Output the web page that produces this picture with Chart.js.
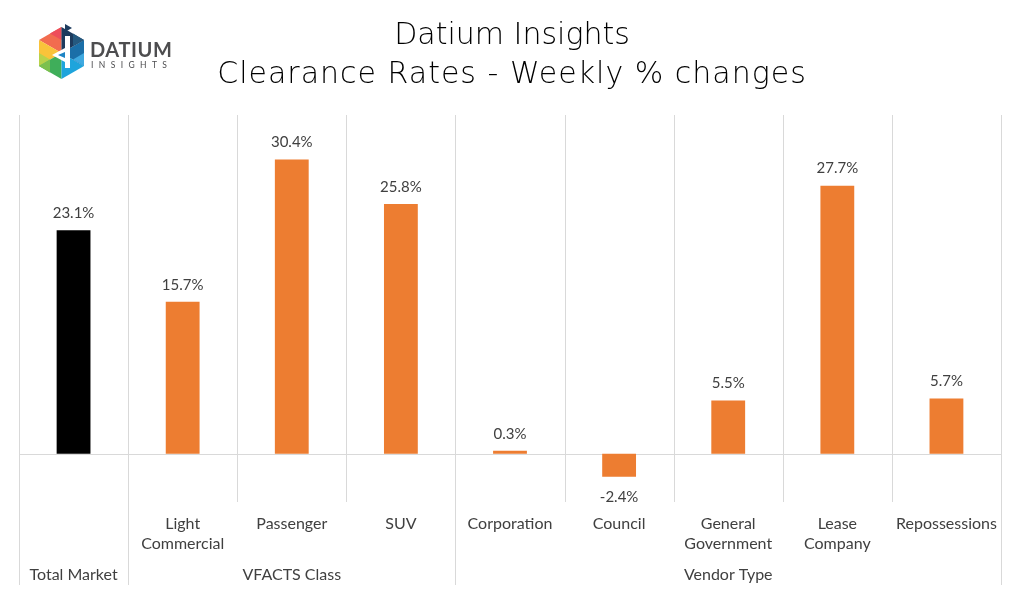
<!DOCTYPE html>
<html>
<head>
<meta charset="utf-8">
<script src="https://cdn.jsdelivr.net/npm/chart.js@4.4.0/dist/chart.umd.min.js"></script>
<style>
  html, body { margin: 0; padding: 0; background: #fff; }
  #wrap { position: relative; width: 1024px; height: 594px; }
  #logo { position: absolute; left: 36px; top: 24px; }
</style>
</head>
<body>
<div id="wrap">
  <canvas id="chart" width="1024" height="594"></canvas>
  <svg id="logo" width="150" height="60" viewBox="0 0 150 60">
    <!-- hexagon, pointy top, centre (25.5,29) r 26 -->
    <g>
      <polygon points="25.5,3 25.5,29 3,16" fill="#f26c4f"/>
      <polygon points="14,9.5 25.5,3 25.5,16" fill="#ee4d5a"/>
      <polygon points="3,16 25.5,29 3,42" fill="#f9c33a"/>
      <polygon points="3,29 3,42 14,35.5" fill="#b9d24a"/>
      <polygon points="3,42 25.5,29 25.5,55" fill="#3fae5a"/>
      <polygon points="3,42 14,48.5 14,35.5" fill="#7cc04e"/>
      <polygon points="25.5,55 25.5,29 48,42" fill="#1ea4dc"/>
      <polygon points="48,42 25.5,29 48,16" fill="#1b6fa8"/>
      <polygon points="48,29 48,42 37,35.5" fill="#3fa9e0"/>
      <polygon points="48,16 25.5,29 25.5,3" fill="#1d3b5e"/>
      <polygon points="37,9.5 48,16 37,22" fill="#25597f"/>
      <polygon points="29,0 36,4 29,8" fill="#1d3b5e"/>
      <!-- white d cut -->
      <rect x="29" y="12" width="5" height="32" fill="#fff"/>
      <polygon points="29,24 16,31 29,38" fill="#fff"/>
      <polygon points="29,28 22,31 29,34" fill="#1e84c4"/>
    </g>
    <text x="54" y="33" font-family="Lato, 'Open Sans', sans-serif" font-size="20" font-weight="700" fill="#4d4d4f" letter-spacing="0.6">DATIUM</text>
    <text x="55" y="44" font-family="Lato, 'Open Sans', sans-serif" font-size="8.5" fill="#4d4d4f" letter-spacing="5.4">INSIGHTS</text>
  </svg>
</div>
<script>
// Data
const groups = ['Total Market', 'VFACTS Class', 'Vendor Type'];
const groupSpans = [[0, 0], [1, 3], [4, 8]];
const categories = [
  [''],
  ['Light', 'Commercial'],
  ['Passenger'],
  ['SUV'],
  ['Corporation'],
  ['Council'],
  ['General', 'Government'],
  ['Lease', 'Company'],
  ['Repossessions']
];
const changes = [23.1, 15.7, 30.4, 25.8, 0.3, -2.4, 5.5, 27.7, 5.7];
const barColors = ['#000000', '#ed7d31', '#ed7d31', '#ed7d31', '#ed7d31', '#ed7d31', '#ed7d31', '#ed7d31', '#ed7d31'];
const titleLines = ['Datium Insights', 'Clearance Rates - Weekly % changes'];

const FONT = "Lato, 'Open Sans', sans-serif";
const TITLE_FONT = "200 30px 'DejaVu Sans', sans-serif";
const TEXT = '#404040';
const GRID = '#d9d9d9';

// draws title, category grid, data labels and the two-level axis
const decorations = {
  id: 'decorations',
  beforeDatasetsDraw(chart) {
    const { ctx, chartArea } = chart;
    const x = chart.scales.x;
    const y = chart.scales.y;
    const zero = Math.round(y.getPixelForValue(0)) + 0.5;
    const half = (x.getPixelForValue(1) - x.getPixelForValue(0)) / 2;
    ctx.save();
    ctx.strokeStyle = GRID;
    ctx.lineWidth = 1;
    // boundaries between categories
    const groupEdges = new Set();
    groupSpans.forEach(s => { groupEdges.add(s[0]); groupEdges.add(s[1] + 1); });
    for (let i = 0; i <= categories.length; i++) {
      const px = Math.round(x.getPixelForValue(i) - half) + 0.5;
      const bottom = groupEdges.has(i) ? 585 : chartArea.bottom;
      ctx.beginPath();
      ctx.moveTo(px, chartArea.top);
      ctx.lineTo(px, bottom);
      ctx.stroke();
    }
    // zero line
    ctx.beginPath();
    ctx.moveTo(chartArea.left, zero);
    ctx.lineTo(chartArea.right, zero);
    ctx.stroke();
    ctx.restore();
  },
  afterDatasetsDraw(chart) {
    const { ctx } = chart;
    const x = chart.scales.x;
    const half = (x.getPixelForValue(1) - x.getPixelForValue(0)) / 2;
    ctx.save();
    ctx.fillStyle = '#000';
    ctx.textAlign = 'center';
    ctx.textBaseline = 'middle';
    ctx.font = TITLE_FONT;
    ctx.fillText(titleLines[0], 512, 36);
    ctx.letterSpacing = '1px';
    ctx.fillText(titleLines[1], 512, 75);
    ctx.letterSpacing = '0px';

    // value labels
    ctx.fillStyle = TEXT;
    ctx.font = '15px ' + FONT;
    chart.getDatasetMeta(0).data.forEach((bar, i) => {
      const v = changes[i];
      const ly = v >= 0 ? bar.y - 17 : bar.y + 20;
      ctx.fillText(v.toFixed(1) + '%', bar.x, ly);
    });

    // category labels
    ctx.font = '16px ' + FONT;
    categories.forEach((lines, i) => {
      const cx = x.getPixelForValue(i);
      lines.forEach((t, k) => ctx.fillText(t, cx, 524 + k * 20));
    });
    // group labels
    groupSpans.forEach((s, g) => {
      const cx = (x.getPixelForValue(s[0]) - half + x.getPixelForValue(s[1]) + half) / 2;
      ctx.fillText(groups[g], cx, 575);
    });
    ctx.restore();
  }
};

new Chart(document.getElementById('chart'), {
  type: 'bar',
  data: {
    labels: categories.map(c => c.join(' ')),
    datasets: [{
      data: changes,
      backgroundColor: barColors,
      borderWidth: 0,
      categoryPercentage: 1,
      barPercentage: 0.31
    }]
  },
  options: {
    responsive: false,
    animation: false,
    layout: { padding: { left: 19, right: 23, top: 115, bottom: 92 } },
    plugins: { legend: { display: false }, tooltip: { enabled: false } },
    scales: {
      x: { display: false },
      y: { display: false, min: -5, max: 35 }
    }
  },
  plugins: [decorations]
});
</script>
</body>
</html>
